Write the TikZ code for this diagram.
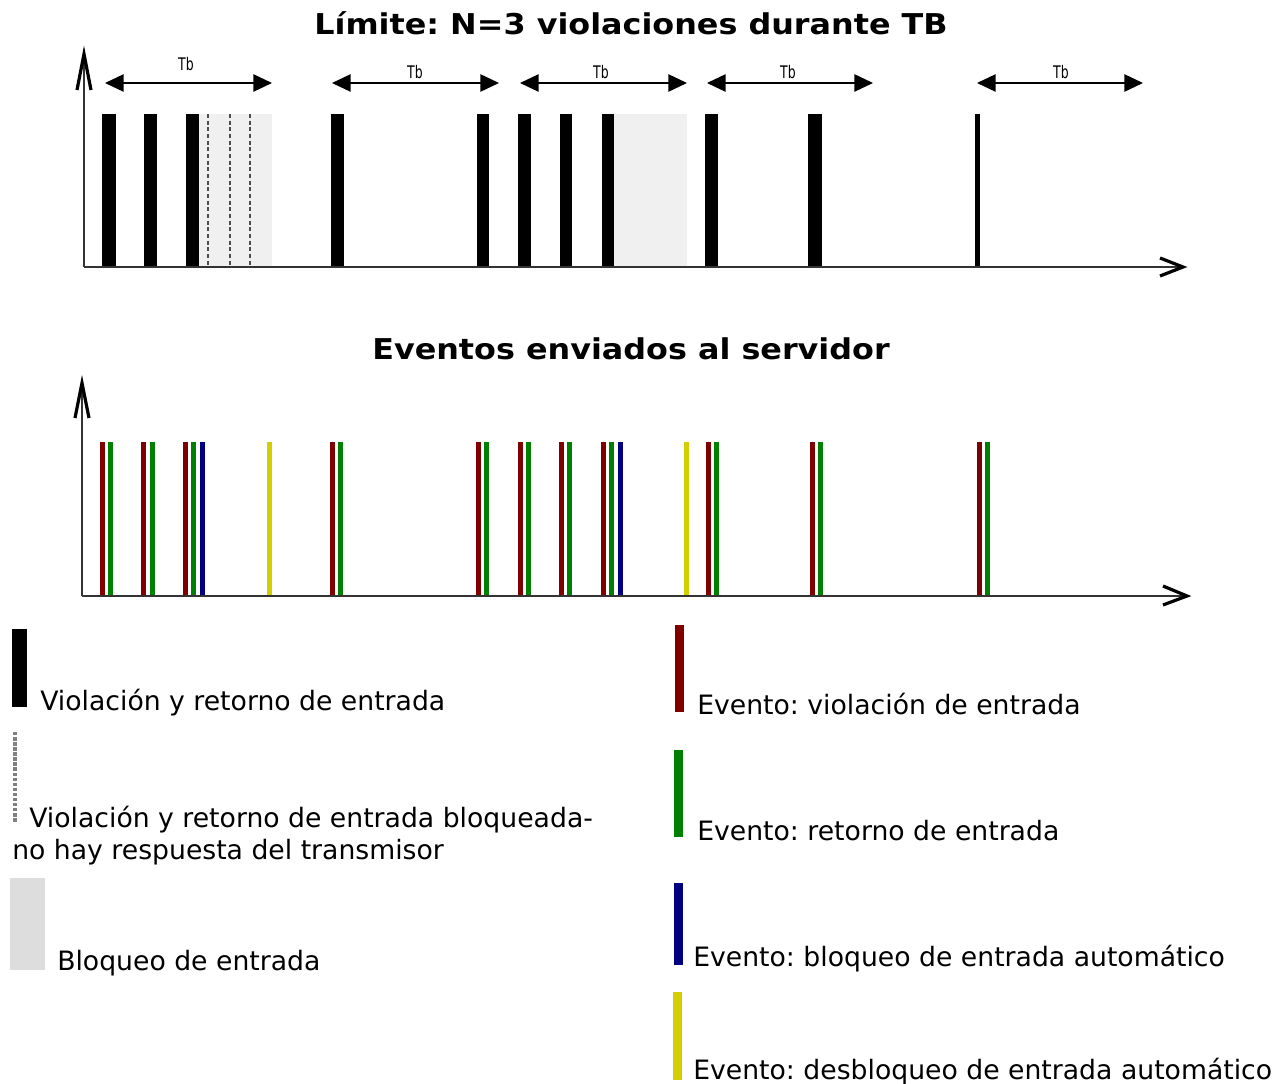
\documentclass[tikz,border=0pt]{standalone}
\usepackage{fontspec}
\setmainfont{DejaVu Sans}
\usetikzlibrary{arrows.meta}
\definecolor{evred}{HTML}{800000}
\definecolor{evgreen}{HTML}{008000}
\definecolor{evblue}{HTML}{000080}
\definecolor{evyellow}{HTML}{D2CE00}
\definecolor{blockgray}{HTML}{F0F0F0}
\definecolor{legendgray}{HTML}{DDDDDD}
\definecolor{axisgray}{HTML}{333333}
\frenchspacing
\tikzset{
  axisline/.style={draw=axisgray, line width=1.5pt},
  chevron/.style={draw=black, line width=2.4pt, line join=miter, line cap=butt},
  tbarrow/.style={draw=black, line width=1.2pt, {Triangle[length=14pt,width=13pt]}-{Triangle[length=14pt,width=13pt]}},
  tblabel/.style={font=\fontsize{13pt}{15pt}\selectfont, xscale=0.72, anchor=base, inner sep=0pt},
  titletext/.style={font=\fontsize{21.5pt}{25pt}\selectfont\bfseries, xscale=1.11, anchor=base, inner sep=0pt},
  legtext/.style={font=\fontsize{20pt}{24pt}\selectfont, anchor=base west, inner sep=0pt},
  dashline/.style={draw=black!70, line width=0.8pt, dash pattern=on 3pt off 2pt},
}
\begin{document}
\begin{tikzpicture}[x=0.75pt,y=-0.75pt]
\useasboundingbox (0,0) rectangle (1285,1084);
\fill[white] (0,0) rectangle (1285,1084);

% ---------- top chart ----------
\node[titletext] (title1) at (631,35) {Límite: N=3 violaciones durante TB};

\fill[blockgray] (199,114) rectangle (272,267);
\fill[blockgray] (614,114) rectangle (687,267);
\foreach \x in {208,230,250} \draw[dashline] (\x,114) -- (\x,267);

\foreach \a/\b in {102/116,144/157,186/199,331/344,477/489,518/531,560/572,602/614,705/718,808/822,975/980}
  \fill[black] (\a,114) rectangle (\b,267);

\coordinate (ya1) at (84,267);
\coordinate (yb1) at (84,56);
\coordinate (xb1) at (1180,267);
\draw[axisline] (ya1) -- (yb1);
\draw[axisline] (ya1) -- (xb1);
\draw[chevron] (77,90) -- (84,54) -- (91,90);
\draw[chevron] (1160,258) -- (1183,267) -- (1160,276);

\coordinate (t1a) at (105,83); \coordinate (t1b) at (272,83);
\coordinate (t2a) at (332,83); \coordinate (t2b) at (499,83);
\coordinate (t3a) at (520,83); \coordinate (t3b) at (687,83);
\coordinate (t4a) at (707,83); \coordinate (t4b) at (873,83);
\coordinate (t5a) at (977,83); \coordinate (t5b) at (1143,83);
\draw[tbarrow] (t1a) -- (t1b);
\draw[tbarrow] (t2a) -- (t2b);
\draw[tbarrow] (t3a) -- (t3b);
\draw[tbarrow] (t4a) -- (t4b);
\draw[tbarrow] (t5a) -- (t5b);
\node[tblabel] (tb1) at (186,71) {Tb};
\node[tblabel] (tb2) at (415,79) {Tb};
\node[tblabel] (tb3) at (601,79) {Tb};
\node[tblabel] (tb4) at (788,79) {Tb};
\node[tblabel] (tb5) at (1061,79) {Tb};

% ---------- bottom chart ----------
\node[titletext] (title2) at (631,359) {Eventos enviados al servidor};

\foreach \c in {102,143,185,332,478,520,561,603,708,812,979}
  \fill[evred] (\c-2.5,442) rectangle (\c+2.5,596);
\foreach \c in {110,152,193,340,486,528,569,611,716,820,987}
  \fill[evgreen] (\c-2.5,442) rectangle (\c+2.5,596);
\foreach \c in {202,620}
  \fill[evblue] (\c-2.5,442) rectangle (\c+2.5,596);
\foreach \c in {269,686}
  \fill[evyellow] (\c-2.5,442) rectangle (\c+2.5,596);

\coordinate (ya2) at (82,596);
\coordinate (yb2) at (82,385);
\coordinate (xb2) at (1184,596);
\draw[axisline] (ya2) -- (yb2);
\draw[axisline] (ya2) -- (xb2);
\draw[chevron] (75,418) -- (82,383) -- (89,418);
\draw[chevron] (1163,586) -- (1187,596) -- (1163,605);

% ---------- legend left ----------
\fill[black] (12,629) rectangle (27,707);
\node[legtext] (l1) at (40,710) {Violación y retorno de entrada};

\draw[draw=black!50, line width=2.4pt, dash pattern=on 2.6pt off 1.2pt] (15,732) -- (15,822);
\node[legtext] (l2a) at (29,827) {Violación y retorno de entrada bloqueada-};
\node[legtext] (l2b) at (12,859) {no hay respuesta del transmisor};

\fill[legendgray] (10,878) rectangle (45,970);
\node[legtext] (l3) at (57,970) {Bloqueo de entrada};

% ---------- legend right ----------
\fill[evred] (675,625) rectangle (684,712);
\node[legtext] (r1) at (697,714) {Evento: violación de entrada};
\fill[evgreen] (674,750) rectangle (683,837);
\node[legtext] (r2) at (697,840) {Evento: retorno de entrada};
\fill[evblue] (674,883) rectangle (683,965);
\node[legtext] (r3) at (693,966) {Evento: bloqueo de entrada automático};
\fill[evyellow] (673,992) rectangle (682,1080);
\node[legtext] (r4) at (693,1079) {Evento: desbloqueo de entrada automático};
\end{tikzpicture}
\end{document}
